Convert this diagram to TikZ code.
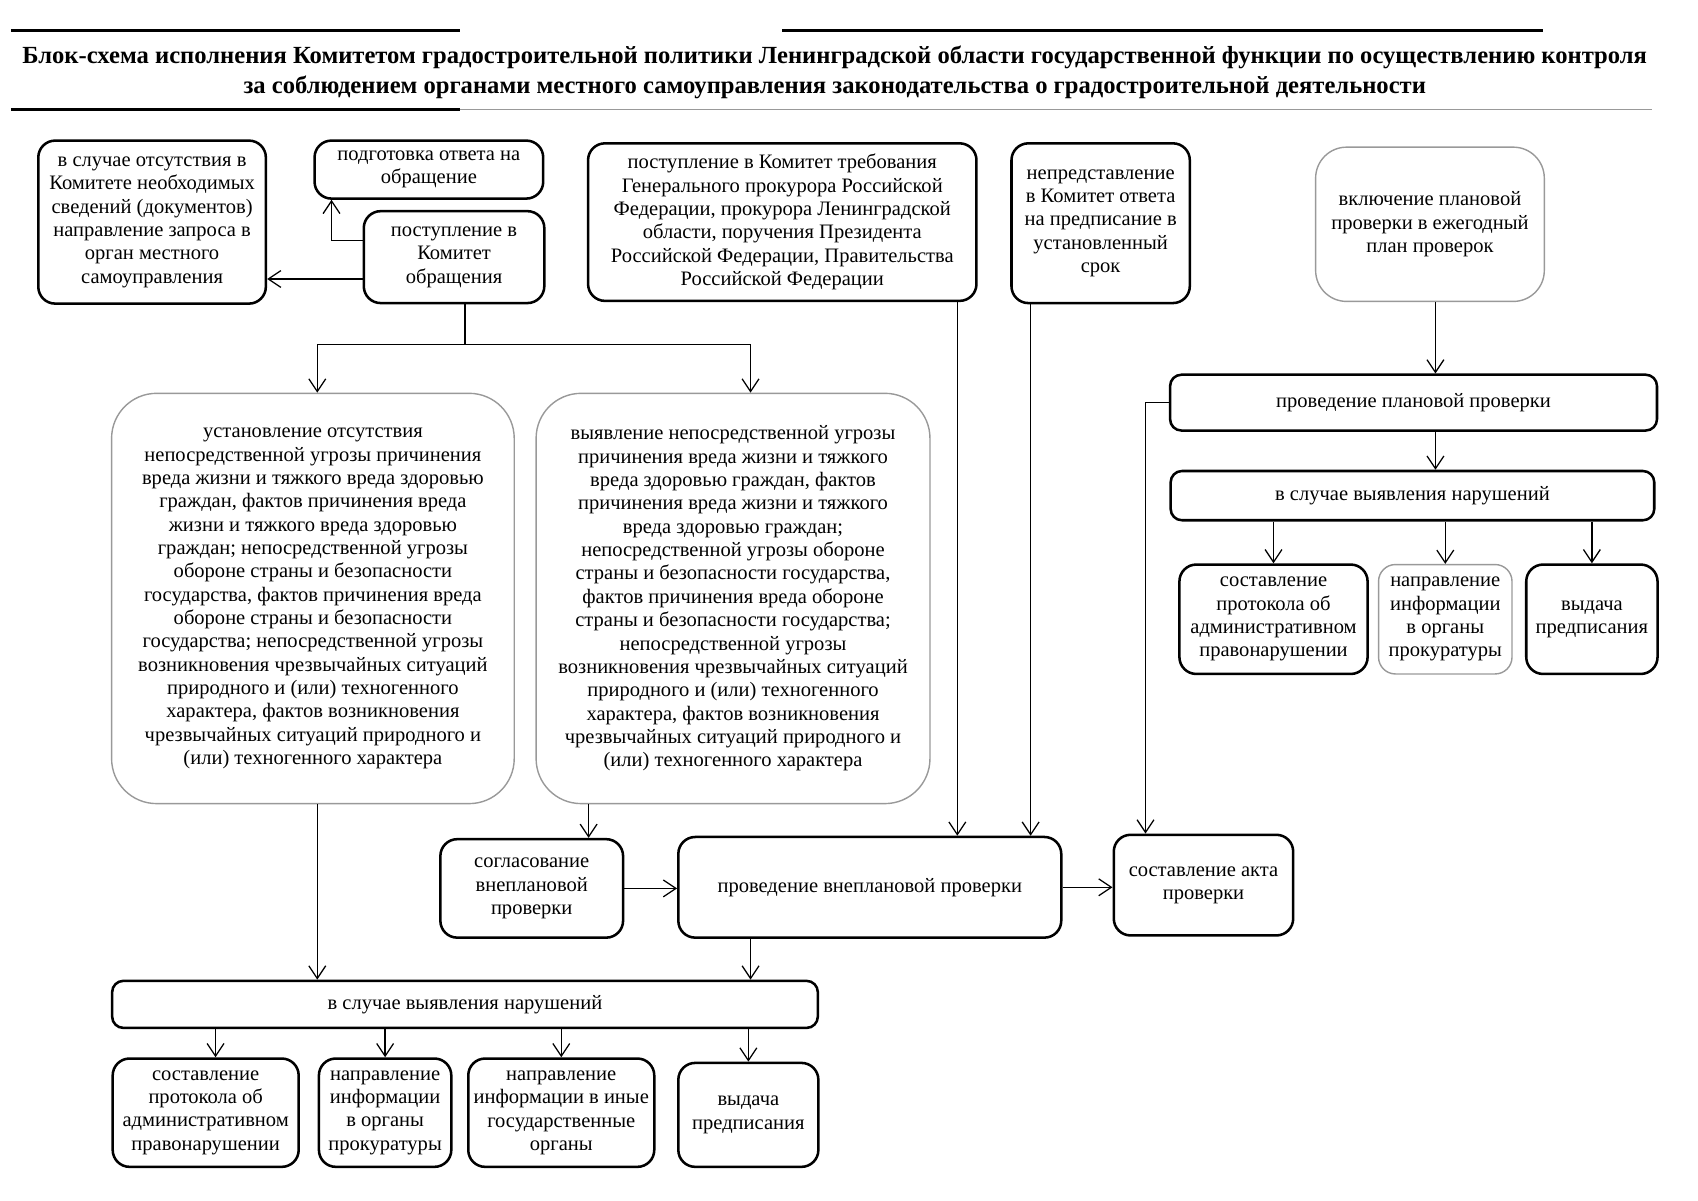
\documentclass[tikz,border=0pt]{standalone}
\usepackage{fontspec}
\setmainfont{Liberation Serif}
\usetikzlibrary{arrows.meta}
\newcommand\dpx{0.02735cm}
\tikzset{
	box/.style={draw, line width=1.8pt, rounded corners=12pt, align=center, inner sep=0pt, font=\fontsize{14.6}{16.6}\selectfont},
	faint/.style={draw=black!40, line width=1pt},
	wh/.style 2 args={minimum width=#1*\dpx, minimum height=#2*\dpx},
	arr/.style={-{Straight Barb[length=9pt,width=12pt]}, line width=0.9pt},
	line/.style={line width=0.9pt}
}
\begin{document}
\begin{tikzpicture}[x=\dpx, y=-\dpx]
	\useasboundingbox (0,0) rectangle (1552,1097);
	\draw[line width=2pt] (10,28) -- (420,28);
	\draw[line width=2pt] (715,28) -- (1410,28);
	\draw[line width=2pt] (10,100) -- (420,100);
	\draw[black!40, line width=0.8pt] (420,100) -- (1510,100);
	\node[align=center, font=\fontsize{17.5}{21.7}\selectfont\bfseries] (title) at (763,66) {Блок-схема исполнения Комитетом градостроительной политики Ленинградской области государственной функции по осуществлению контроля\\ за соблюдением органами местного самоуправления законодательства о градостроительной деятельности};
	\node[box, wh={208}{149}] (zapros) at (139,203) {в случае отсутствия в\\ Комитете необходимых\\ сведений (документов)\\ направление запроса в\\ орган местного\\ самоуправления};
	\node[box, wh={209}{53}] (otvet) at (392,155) {подготовка ответа на\\ обращение};
	\node[box, wh={165}{84}] (obr) at (415,235) {поступление в\\ Комитет\\ обращения};
	\node[box, wh={355}{144}] (treb) at (715,203) {поступление в Комитет требования\\ Генерального прокурора Российской\\ Федерации, прокурора Ленинградской\\ области, поручения Президента\\ Российской Федерации, Правительства\\ Российской Федерации};
	\node[box, wh={163}{146}] (nepred) at (1006,204) {непредставление\\ в Комитет ответа\\ на предписание в\\ установленный\\ срок};
	\node[box, faint, rounded corners=22pt, wh={209}{141}] (plan) at (1307,205) {включение плановой\\ проверки в ежегодный\\ план проверок};
	\node[box, rounded corners=8pt, wh={445}{51}] (planpr) at (1292,368) {проведение плановой проверки};
	\node[box, rounded corners=8pt, wh={442}{45}] (narR) at (1291,453) {в случае выявления нарушений};
	\node[box, wh={172}{100}] (protR) at (1164,566) {составление\\ протокола об\\ административном\\ правонарушении};
	\node[box, faint, wh={122}{100}] (prokR) at (1321,566) {направление\\ информации\\ в органы\\ прокуратуры};
	\node[box, wh={120}{100}] (predR) at (1455,566) {выдача\\ предписания};
	\node[box, faint, rounded corners=32pt, wh={368}{375}] (net) at (286,547) {установление отсутствия\\ непосредственной угрозы причинения\\ вреда жизни и тяжкого вреда здоровью\\ граждан, фактов причинения вреда\\ жизни и тяжкого вреда здоровью\\ граждан; непосредственной угрозы\\ обороне страны и безопасности\\ государства, фактов причинения вреда\\ обороне страны и безопасности\\ государства; непосредственной угрозы\\ возникновения чрезвычайных ситуаций\\ природного и (или) техногенного\\ характера, фактов возникновения\\ чрезвычайных ситуаций природного и\\ (или) техногенного характера};
	\node[box, faint, rounded corners=32pt, wh={360}{375}] (ugr) at (670,547) {выявление непосредственной угрозы\\ причинения вреда жизни и тяжкого\\ вреда здоровью граждан, фактов\\ причинения вреда жизни и тяжкого\\ вреда здоровью граждан;\\ непосредственной угрозы обороне\\ страны и безопасности государства,\\ фактов причинения вреда обороне\\ страны и безопасности государства;\\ непосредственной угрозы\\ возникновения чрезвычайных ситуаций\\ природного и (или) техногенного\\ характера, фактов возникновения\\ чрезвычайных ситуаций природного и\\ (или) техногенного характера};
	\node[box, wh={167}{90}] (sogl) at (486,812) {согласование\\ внеплановой\\ проверки};
	\node[box, wh={350}{92}] (vnepl) at (795,811) {проведение внеплановой проверки};
	\node[box, wh={164}{92}] (akt) at (1100,809) {составление акта\\ проверки};
	\node[box, rounded corners=8pt, wh={645}{43}] (nar) at (425,918) {в случае выявления нарушений};
	\node[box, wh={170}{99}] (prot) at (188,1017) {составление\\ протокола об\\ административном\\ правонарушении};
	\node[box, wh={121}{99}] (prok) at (352,1017) {направление\\ информации\\ в органы\\ прокуратуры};
	\node[box, wh={170}{99}] (inye) at (513,1017) {направление\\ информации в иные\\ государственные\\ органы};
	\node[box, wh={128}{95}] (pred) at (684,1019) {выдача\\ предписания};
	\draw[arr] (obr.west |- 0,255) -- (zapros.east |- 0,255);
	\draw[arr] (obr.west |- 0,220) -| (303,0 |- otvet.south);
	\draw[line] (obr.south -| 425,0) -- (425,315);
	\draw[arr] (425,315) -| (net.north -| 290,0);
	\draw[arr] (425,315) -| (ugr.north -| 686,0);
	\draw[arr] (treb.south -| 875,0) -- (vnepl.north -| 875,0);
	\draw[arr] (nepred.south -| 942,0) -- (vnepl.north -| 942,0);
	\draw[arr] (plan.south -| 1312,0) -- (planpr.north -| 1312,0);
	\draw[arr] (planpr.west) -| (akt.north -| 1047,0);
	\draw[arr] (planpr.south -| 1312,0) -- (narR.north -| 1312,0);
	\draw[arr] (narR.south -| protR.north) -- (protR.north);
	\draw[arr] (narR.south -| prokR.north) -- (prokR.north);
	\draw[arr] (narR.south -| predR.north) -- (predR.north);
	\draw[arr] (ugr.south -| 538,0) -- (sogl.north -| 538,0);
	\draw[arr] (net.south -| 290,0) -- (nar.north -| 290,0);
	\draw[arr] (sogl.east) -- (sogl.east -| vnepl.west);
	\draw[arr] (vnepl.east) -- (vnepl.east -| akt.west);
	\draw[arr] (vnepl.south -| 686,0) -- (nar.north -| 686,0);
	\draw[arr] (nar.south -| 197,0) -- (prot.north -| 197,0);
	\draw[arr] (nar.south -| prok.north) -- (prok.north);
	\draw[arr] (nar.south -| inye.north) -- (inye.north);
	\draw[arr] (nar.south -| pred.north) -- (pred.north);
\end{tikzpicture}
\end{document}
